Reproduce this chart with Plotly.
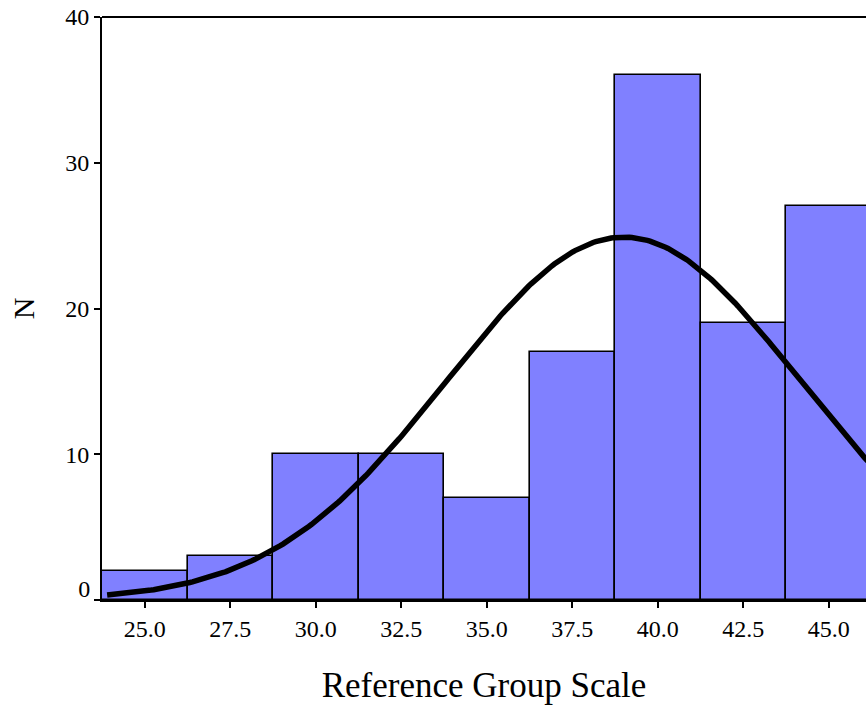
import numpy as np
import plotly.graph_objects as go

# Histogram data (bin midpoints, width 2.5)
bin_centers = [25.0, 27.5, 30.0, 32.5, 35.0, 37.5, 40.0, 42.5, 45.0]
counts = [2, 3, 10, 10, 7, 17, 36, 19, 27]
bin_width = 2.5
x_tick_vals = [25.0, 27.5, 30.0, 32.5, 35.0, 37.5, 40.0, 42.5, 45.0]
x_tick_text = ["25.0", "27.5", "30.0", "32.5", "35.0", "37.5", "40.0", "42.5", "45.0"]
y_tick_vals = [0, 10, 20, 30, 40]
y_tick_text = ["", "10", "20", "30", "40"]
# the "0" label sits slightly above its tick in the reference
y_zero_label_pos = [0.75]
y_zero_label_text = ["0"]

# Normal curve fit parameters
curve_mean = 39.0
curve_sd = 5.15
curve_peak = 24.9

curve_x = np.linspace(23.9, 46.5, 300)
curve_y = curve_peak * np.exp(-0.5 * ((curve_x - curve_mean) / curve_sd) ** 2)

FONT = "Liberation Serif, Times New Roman, serif"

fig = go.Figure()
fig.add_trace(go.Bar(
    x=bin_centers, y=counts, width=bin_width,
    marker=dict(color="#8080FF", line=dict(color="black", width=1.6)),
    showlegend=False, hoverinfo="x+y",
))
fig.add_trace(go.Scatter(
    x=curve_x, y=curve_y, mode="lines",
    line=dict(color="black", width=5.5), showlegend=False,
))
# invisible helper trace for the secondary y axis carrying the "0" label
fig.add_trace(go.Scatter(x=[None], y=[None], yaxis="y2", showlegend=False, hoverinfo="skip"))

fig.update_layout(
    width=866, height=721,
    margin=dict(l=102, r=0, t=17, b=121),
    paper_bgcolor="white", plot_bgcolor="white",
    font=dict(family=FONT, color="black", size=24),
    bargap=0,
    xaxis=dict(
        range=[23.75, 23.75 + 764 / 34.2],
        tickvals=x_tick_vals, ticktext=x_tick_text,
        ticks="outside", ticklen=6, tickwidth=1.6, tickcolor="black",
        showline=True, linecolor="black", linewidth=2,
        showgrid=False, zeroline=False,
        tickfont=dict(size=24),
        title=dict(text="Reference Group Scale", font=dict(size=35), standoff=32),
    ),
    yaxis=dict(
        range=[0, 40],
        tickvals=y_tick_vals, ticktext=y_tick_text,
        ticks="outside", ticklen=6, tickwidth=1.6, tickcolor="black",
        showline=True, linecolor="black", linewidth=2,
        showgrid=False, zeroline=False,
        tickfont=dict(size=24),
        title=dict(text="N", font=dict(size=30), standoff=22),
    ),
    yaxis2=dict(
        range=[0, 40], overlaying="y", side="left",
        tickvals=y_zero_label_pos, ticktext=y_zero_label_text,
        ticks="outside", ticklen=6, tickcolor="rgba(0,0,0,0)",
        showline=False, showgrid=False, zeroline=False,
        tickfont=dict(size=24),
    ),
    shapes=[dict(type="line", xref="paper", yref="paper", x0=0, x1=1, y0=1, y1=1,
                 line=dict(color="black", width=2))],
)

fig.write_html(
    "out.html",
    config={"displayModeBar": False},
    post_script="document.body.style.margin='0';document.body.style.overflow='hidden';",
)
